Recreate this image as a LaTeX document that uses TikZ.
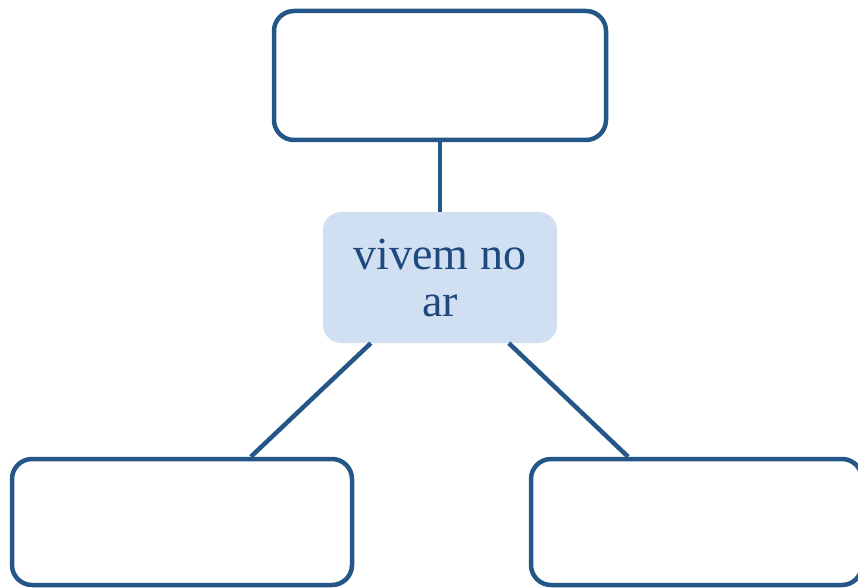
\documentclass[tikz,border=0pt]{standalone}
\usepackage{fontspec}
\setmainfont{Liberation Serif}
\definecolor{edgeblue}{RGB}{36,87,135}
\definecolor{textblue}{RGB}{31,73,125}
\definecolor{fillblue}{RGB}{208,224,242}
\tikzset{
  emptybox/.style={draw=edgeblue, line width=4.5pt, rounded corners=20pt, fill=white, inner sep=0pt},
  midbox/.style={fill=fillblue, rounded corners=18pt, inner sep=0pt, text=textblue, align=center,
    font=\fontsize{46}{47}\selectfont},
  link/.style={draw=edgeblue, line width=4.5pt}
}
\begin{document}
\begin{tikzpicture}[x=1pt,y=1pt]
\useasboundingbox (0,0) rectangle (858,587);
\node[emptybox, minimum width=332pt, minimum height=129pt] (top) at (440,511.5) {};
\node[midbox, minimum width=234pt, minimum height=131pt] (c) at (440,309.5) {vivem no\\ar};
\node[emptybox, minimum width=340pt, minimum height=126pt] (bl) at (182,65) {};
\node[emptybox, minimum width=331pt, minimum height=126pt] (br) at (696.5,65) {};
\draw[link] (top) -- (c);
\draw[link] (c) -- (bl);
\draw[link] (c) -- (br);
\end{tikzpicture}
\end{document}
